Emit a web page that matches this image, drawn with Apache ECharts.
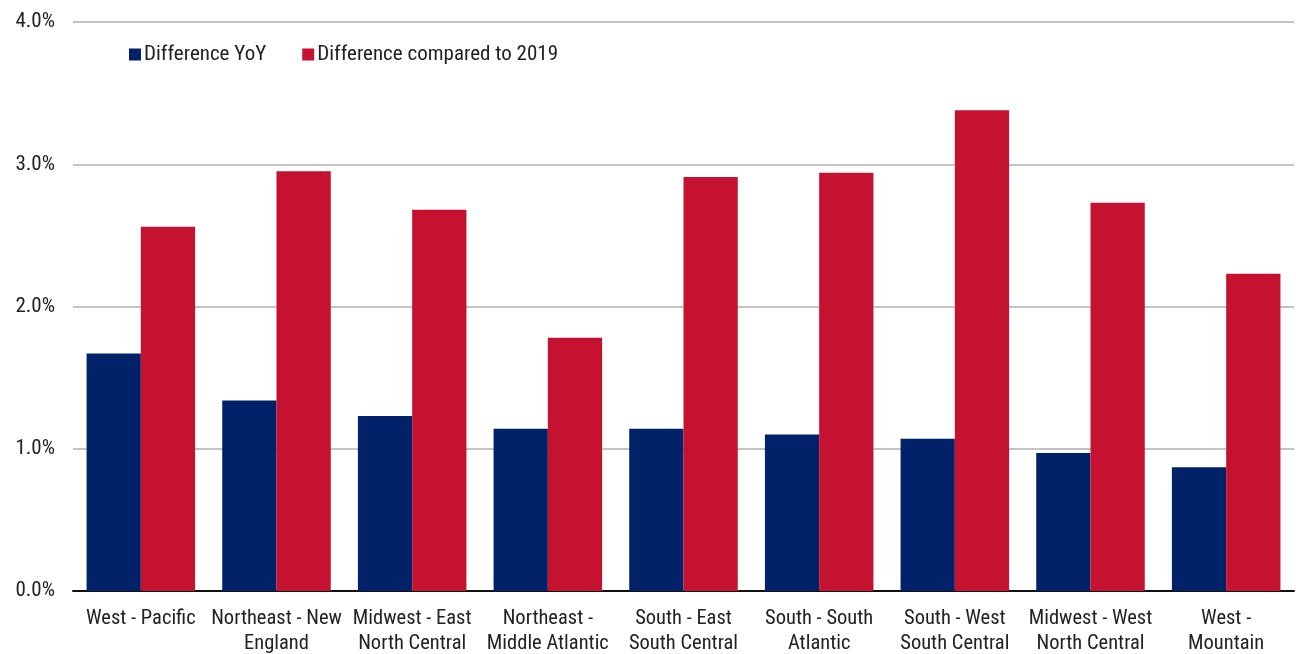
<!DOCTYPE html>
<html><head><meta charset="utf-8">
<script src="https://cdn.jsdelivr.net/npm/echarts@6/dist/echarts.min.js"></script>
<style>html,body{margin:0;padding:0;background:#fff}#c{width:1296px;height:654px}</style>
</head><body><div id="c"></div>
<script>
const categories = ['West - Pacific','Northeast - New\nEngland','Midwest - East\nNorth Central','Northeast -\nMiddle Atlantic','South - East\nSouth Central','South - South\nAtlantic','South - West\nSouth Central','Midwest - West\nNorth Central','West -\nMountain'];
const diffYoY = [1.67, 1.34, 1.23, 1.14, 1.14, 1.10, 1.07, 0.97, 0.87];
const diff2019 = [2.56, 2.95, 2.68, 1.78, 2.91, 2.94, 3.38, 2.73, 2.23];
const yTicks = [0, 1, 2, 3, 4];
const FONT = '"Roboto Condensed", "Liberation Sans", sans-serif';
const chart = echarts.init(document.getElementById('c'), null, {renderer:'canvas'});
chart.setOption({
  animation:false,
  textStyle:{fontFamily:FONT},
  legend:{
    left:124, top:39, itemWidth:12, itemHeight:12, itemGap:36,
    icon:'rect',
    textStyle:{fontFamily:FONT, fontSize:21, color:'#222', padding:[0,0,0,-2]},
    data:['Difference YoY','Difference compared to 2019']
  },
  grid:{left:73, right:2, top:22, bottom:63, containLabel:false, outerBoundsMode:'none'},
  xAxis:{
    type:'category', data:categories,
    axisLine:{lineStyle:{color:'#111', width:2}},
    axisTick:{show:false},
    axisLabel:{interval:0, fontFamily:FONT, fontSize:20.5, color:'#222', lineHeight:25, margin:15}
  },
  yAxis:{
    type:'value', min:0, max:4, interval:1,
    axisLabel:{formatter:v=>v.toFixed(1)+'%', fontFamily:FONT, fontSize:21, color:'#222', margin:18},
    splitLine:{lineStyle:{color:'#c4c4c4', width:2}},
    axisLine:{show:false}, axisTick:{show:false}
  },
  series:[
    {name:'Difference YoY', type:'bar', data:diffYoY, itemStyle:{color:'#012169'}, barGap:'0%', barCategoryGap:'20%'},
    {name:'Difference compared to 2019', type:'bar', data:diff2019, itemStyle:{color:'#C41230'}, barGap:'0%', barCategoryGap:'20%'}
  ]
});
</script></body></html>
